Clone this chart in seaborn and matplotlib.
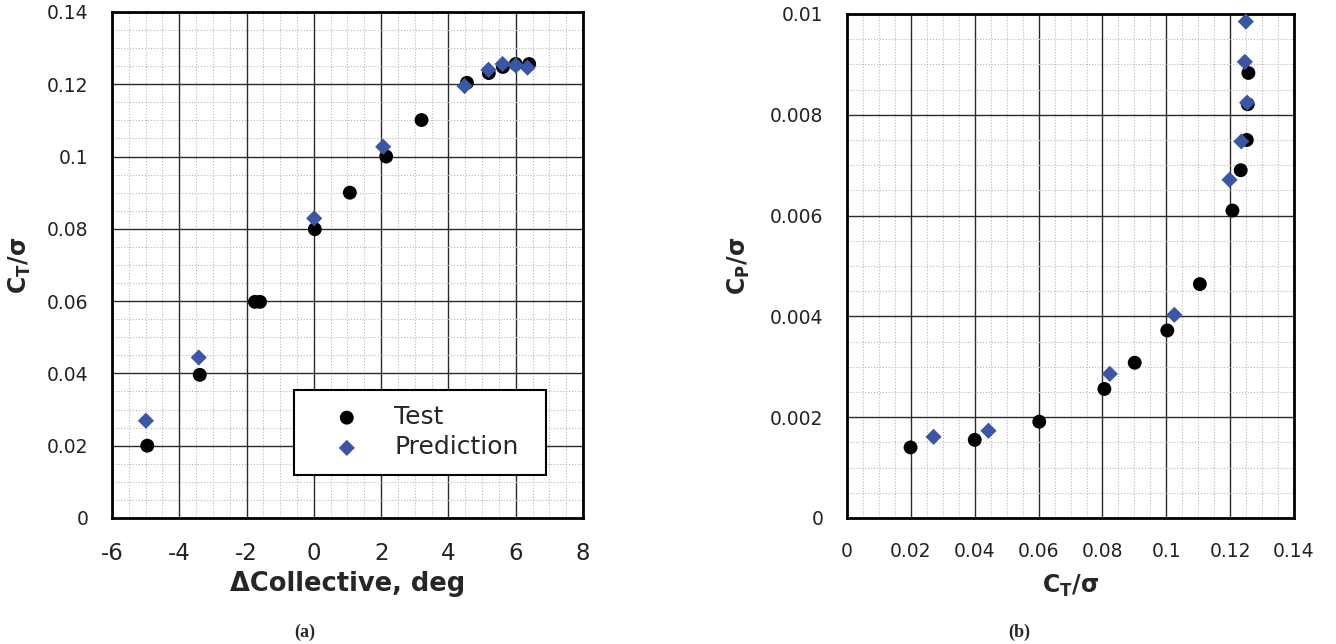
import numpy as np
import pandas as pd
import matplotlib
matplotlib.use('Agg')
import matplotlib.pyplot as plt
from matplotlib.ticker import MultipleLocator, FuncFormatter
import seaborn as sns

# values
# (a) thrust vs collective
coll_test = [-4.95, -3.39, -1.75, -1.6, 0.03, 1.07, 2.15, 3.2, 4.55, 5.2, 5.62, 6.0, 6.4]
ct_test = [0.0200, 0.0396, 0.0598, 0.0598, 0.0799, 0.0900, 0.1000, 0.1101, 0.1204, 0.1231, 0.1248, 0.1256, 0.1256]
coll_pred = [-4.99, -3.42, 0.01, 2.06, 4.48, 5.19, 5.61, 6.0, 6.35]
ct_pred = [0.0269, 0.0444, 0.0829, 0.1027, 0.1195, 0.1240, 0.1256, 0.1252, 0.1246]

# (b) power vs thrust
ct_test_b = [0.0199, 0.0400, 0.0602, 0.0806, 0.0901, 0.1003, 0.1105, 0.1207, 0.1233, 0.1252, 0.1255, 0.1257]
cp_test_b = [0.00140, 0.00155, 0.00191, 0.00256, 0.00308, 0.00372, 0.00464, 0.00610, 0.00690, 0.00750, 0.00821, 0.00883]
ct_pred_b = [0.0271, 0.0443, 0.0823, 0.1025, 0.1198, 0.1235, 0.1253, 0.1246, 0.1249]
cp_pred_b = [0.00161, 0.00173, 0.00286, 0.00403, 0.00671, 0.00747, 0.00824, 0.00905, 0.00985]

blue = '#3C56A6'

sns.set_style('white')
plt.rcParams['font.family'] = ['DejaVu Sans']
plt.rcParams['axes.unicode_minus'] = False
plt.rcParams['mathtext.fontset'] = 'dejavusans'

df_a_test = pd.DataFrame({'x': coll_test, 'y': ct_test})
df_a_pred = pd.DataFrame({'x': coll_pred, 'y': ct_pred})
df_b_test = pd.DataFrame({'x': ct_test_b, 'y': cp_test_b})
df_b_pred = pd.DataFrame({'x': ct_pred_b, 'y': cp_pred_b})

fig = plt.figure(figsize=(13.36, 6.44), dpi=100)
ax1 = fig.add_axes([0.0838, 0.1957, 0.3526, 0.7857])
ax2 = fig.add_axes([0.634, 0.1957, 0.3346, 0.7826])

fmt = FuncFormatter(lambda v, p: '%g' % round(v, 6))


def style_axes(ax, xlim, ylim, xmaj, xmin, ymaj, ymin, xsize, ysize):
    ax.set_xlim(*xlim)
    ax.set_ylim(*ylim)
    ax.xaxis.set_major_locator(MultipleLocator(xmaj))
    ax.xaxis.set_minor_locator(MultipleLocator(xmin))
    ax.yaxis.set_major_locator(MultipleLocator(ymaj))
    ax.yaxis.set_minor_locator(MultipleLocator(ymin))
    ax.xaxis.set_major_formatter(fmt)
    ax.yaxis.set_major_formatter(fmt)
    ax.grid(which='major', color='#2a2a2a', lw=1.0, ls='-')
    ax.grid(which='minor', color='#b8b8b8', lw=0.8, ls=':')
    ax.set_axisbelow(True)
    ax.tick_params(which='major', direction='out', length=12, width=1.5,
                   color='black', pad=5, labelcolor='#222222')
    ax.tick_params(which='minor', direction='out', length=7, width=1.5, color='black')
    ax.tick_params(axis='x', which='major', labelsize=xsize)
    ax.tick_params(axis='y', which='major', labelsize=ysize)
    for s in ax.spines.values():
        s.set_color('black')
        s.set_linewidth(2)


for ax, dt, dp in [(ax1, df_a_test, df_a_pred), (ax2, df_b_test, df_b_pred)]:
    sns.scatterplot(data=dt, x='x', y='y', ax=ax, color='black', marker='o',
                    s=100, edgecolor='none', label='Test', zorder=3)
    sns.scatterplot(data=dp, x='x', y='y', ax=ax, color=blue, marker='D',
                    s=68, edgecolor='none', label='Prediction', zorder=4)

style_axes(ax1, (-6, 8), (0, 0.14), 2, 0.5, 0.02, 0.005, 16.5, 13.5)
style_axes(ax2, (0, 0.14), (0, 0.01), 0.02, 0.005, 0.002, 0.0005, 13.5, 13.5)

ax1.set_xlabel('ΔCollective, deg', fontsize=18.5, fontweight='bold')
ax1.set_ylabel(r'$\mathbf{C_T/\sigma}$', fontsize=17)
ax2.set_xlabel(r'$\mathbf{C_T/\sigma}$', fontsize=17)
ax2.set_ylabel(r'$\mathbf{C_P/\sigma}$', fontsize=17)
ax1.xaxis.set_label_coords(0.5, -0.104)
ax2.xaxis.set_label_coords(0.5, -0.108)
ax1.yaxis.set_label_coords(-0.168, 0.5)
ax2.yaxis.set_label_coords(-0.212, 0.5)

ax2.get_legend().remove()
leg = ax1.legend(loc='lower left', bbox_to_anchor=(0.386, 0.085, 0.535, 0.172),
                 mode='expand', fontsize=18, frameon=True, fancybox=False,
                 framealpha=1, edgecolor='black', borderpad=0.62,
                 handlelength=3.0, handletextpad=0.4, labelspacing=0.25,
                 borderaxespad=0)
leg.get_frame().set_linewidth(1.5)

fig.text(305 / 1336, 1 - 632 / 644, '(a)', ha='center', va='center',
         fontsize=13, fontweight='bold', family='Liberation Serif')
fig.text(1019 / 1336, 1 - 632 / 644, '(b)', ha='center', va='center',
         fontsize=13, fontweight='bold', family='Liberation Serif')

fig.savefig('out.png', dpi=100)
